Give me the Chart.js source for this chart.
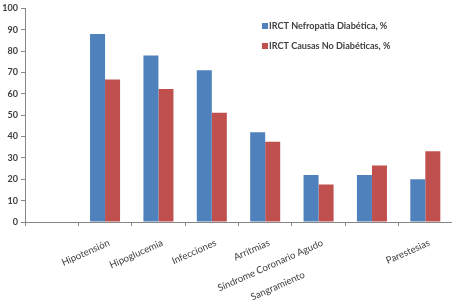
<!DOCTYPE html>
<html><head><meta charset="utf-8">
<script src="https://cdn.jsdelivr.net/npm/chart.js@4/dist/chart.umd.min.js"></script>
<style>html,body{margin:0;padding:0;background:#fff}#wrap{width:452px;height:302px}</style>
</head><body><div id="wrap"><canvas id="c" width="452" height="302"></canvas></div>
<script>
const categories = ["", "Hipotensión", "Hipoglucemia", "Infecciones", "Arritmias", "Síndrome Coronario Agudo", "Sangramiento", "Parestesias"];
const seriesNames = ["IRCT Nefropatia Diabética, %", "IRCT Causas No Diabéticas, %"];
const nefropatiaDiabetica = [null, 88, 78, 71, 42, 22, 22, 20];
const causasNoDiabeticas = [null, 66.7, 62.3, 51.2, 37.6, 17.6, 26.4, 33.1];
const yTickValues = [0, 10, 20, 30, 40, 50, 60, 70, 80, 90, 100];

const FONT = 'Lato, "Open Sans", sans-serif';
const XFONT_SIZE = 9.6;
const mctx = document.createElement('canvas').getContext('2d');
mctx.font = XFONT_SIZE + 'px ' + FONT;
const spaceW = mctx.measureText(' ').width;
// Excel pushed this one label down-left along its own direction
const shiftSpaces = ' '.repeat(Math.round(78 / spaceW));

const insideLegend = {
  id: 'insideLegend',
  afterDraw(chart) {
    const ctx = chart.ctx;
    ctx.save();
    ctx.font = 'bold 9.1px ' + FONT;
    ctx.textBaseline = 'middle';
    ctx.textAlign = 'left';
    chart.data.datasets.forEach((ds, i) => {
      const y = 26 + i * 20;
      ctx.fillStyle = ds.backgroundColor;
      ctx.fillRect(262, y - 3, 6, 6);
      ctx.fillStyle = '#404040';
      ctx.fillText(ds.label, 269, y);
    });
    ctx.restore();
  }
};

new Chart(document.getElementById('c'), {
  type: 'bar',
  data: {
    labels: categories,
    datasets: [
      { label: seriesNames[0], data: nefropatiaDiabetica, backgroundColor: '#4F81BD' },
      { label: seriesNames[1], data: causasNoDiabeticas, backgroundColor: '#C0504D' }
    ]
  },
  plugins: [insideLegend],
  options: {
    responsive: false,
    animation: false,
    devicePixelRatio: 1,
    layout: { padding: { top: 5, right: 0, left: 0, bottom: 0 } },
    datasets: { bar: { categoryPercentage: 0.5625, barPercentage: 1.0 } },
    plugins: { legend: { display: false }, tooltip: { enabled: false } },
    scales: {
      x: {
        grid: { display: true, offset: true, drawOnChartArea: false, drawTicks: true, tickLength: 4, color: '#868686' },
        border: { color: '#868686' },
        ticks: {
          autoSkip: false, minRotation: 24, maxRotation: 24, padding: 11, labelOffset: 4,
          color: '#404040', font: { family: FONT, size: XFONT_SIZE },
          callback: (v, i) => i === 6 ? categories[i] + shiftSpaces : categories[i]
        },
        afterFit: (s) => { s.height = 80; }
      },
      y: {
        min: 0, max: 100,
        afterBuildTicks: (s) => { s.ticks = yTickValues.map(v => ({ value: v })); },
        grid: { display: true, drawOnChartArea: false, drawTicks: true, tickLength: 4, color: '#868686' },
        border: { color: '#868686' },
        ticks: { padding: 3, color: '#404040', font: { family: FONT, size: 9, weight: 'bold' } },
        afterFit: (s) => { s.width = 25; }
      }
    }
  }
});
</script></body></html>
